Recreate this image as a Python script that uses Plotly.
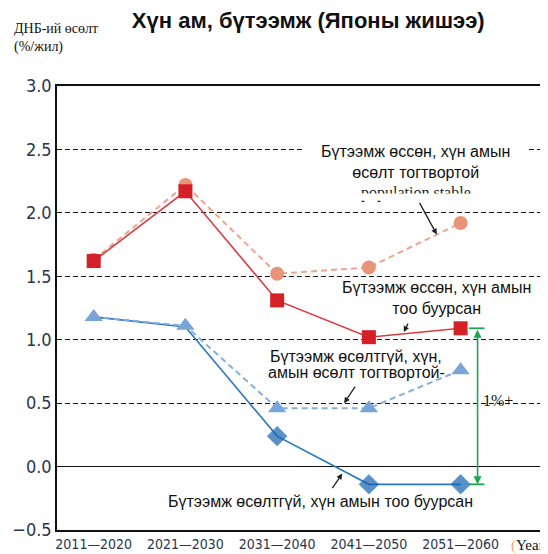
import plotly.graph_objects as go

periods = ["2011—2020", "2021—2030", "2031—2040", "2041—2050", "2051—2060"]
prod_up_pop_stable = [1.63, 2.22, 1.52, 1.57, 1.92]
prod_up_pop_down = [1.62, 2.17, 1.31, 1.02, 1.09]
prod_flat_pop_stable = [1.18, 1.11, 0.46, 0.46, 0.76]
prod_flat_pop_down = [1.18, 1.10, 0.24, -0.14, -0.14]
y_ticks = [-0.5, 0.0, 0.5, 1.0, 1.5, 2.0, 2.5, 3.0]
y_tick_text = ["−0.5", "0.0", "0.5", "1.0", "1.5", "2.0", "2.5", "3.0"]

TICKFONT = "Liberation Sans Narrow, DejaVu Sans Condensed, Arial Narrow, sans-serif"
SANS = "Liberation Sans, Arial, sans-serif"
SERIF = "Liberation Serif, Times New Roman, serif"

fig = go.Figure()

fig.add_trace(go.Scatter(
    x=periods, y=prod_up_pop_stable, mode="lines+markers",
    line=dict(color="#eea48e", width=2, dash="6px,4px"),
    marker=dict(symbol="circle", size=14, color="#e99479"),
    showlegend=False))
fig.add_trace(go.Scatter(
    x=periods, y=prod_up_pop_down, mode="lines+markers",
    line=dict(color="#dc3a40", width=1.6),
    marker=dict(symbol="square", size=14, color="#d42128"),
    showlegend=False))
fig.add_trace(go.Scatter(
    x=periods, y=prod_flat_pop_down, mode="lines+markers",
    line=dict(color="#2a78bf", width=1.6),
    marker=dict(symbol="diamond", size=[0, 0, 15, 15, 15], color="#1462ad"),
    showlegend=False))
fig.add_trace(go.Scatter(
    x=periods, y=prod_flat_pop_stable, mode="lines+markers",
    line=dict(color="#86aedb", width=2, dash="6px,4px"),
    marker=dict(symbol="triangle-up", size=16, color="#78a5d6"),
    showlegend=False))

TXT = dict(family=SANS, size=16, color="#111")
ann = []
# white label box interrupting the 2.5 gridline
ann.append(dict(x=3.50, y=2.425, text=" ", showarrow=False, bgcolor="white",
                width=222, height=36))
ann.append(dict(x=3.51, y=2.40, text="Бүтээмж өссөн, хүн амын<br>өсөлт тогтвортой",
                showarrow=False, font=TXT))
# partially hidden legacy label (lower half covered)
ann.append(dict(x=3.51, y=2.157, text="population stable", showarrow=False,
                font=dict(family=SERIF, size=16, color="#222")))
ann.append(dict(x=3.51, y=2.126, text=" ", showarrow=False, bgcolor="white",
                width=160, height=6, borderpad=0))
ann.append(dict(x=3.74, y=1.33, text="Бүтээмж өссөн, хүн амын<br>тоо буурсан",
                showarrow=False, font=TXT))
ann.append(dict(x=2.86, y=0.865, text="Бүтээмж өсөлтгүй, хүн,",
                showarrow=False, font=TXT))
ann.append(dict(x=2.86, y=0.74, text="амын өсөлт тогтвортой-",
                showarrow=False, font=TXT))
ann.append(dict(x=2.47, y=-0.275, text="Бүтээмж өсөлтгүй, хүн амын тоо буурсан",
                showarrow=False, font=TXT))
# pointer arrows
for hx, hy, ax, ay in [(3.74, 1.83, -18, -33), (3.38, 1.06, 5, -10),
                       (2.73, 0.50, 12, -18), (2.71, -0.055, -11, 16)]:
    ann.append(dict(x=hx, y=hy, ax=ax, ay=ay, text="", showarrow=True,
                    arrowhead=2, arrowsize=0.9, arrowwidth=1.3, arrowcolor="#222"))
# green double arrow
gx = 4.185
ann.append(dict(x=gx, y=prod_flat_pop_down[-1], ax=gx, ay=prod_up_pop_down[-1],
                axref="x", ayref="y", text="", showarrow=True,
                arrowhead=2, startarrowhead=2, arrowside="end+start",
                arrowsize=1, arrowwidth=1.6, arrowcolor="#1ea552"))
ann.append(dict(x=4.22, y=0.52, text="1%+", showarrow=False, xanchor="left",
                font=dict(family=SERIF, size=16, color="#111")))
# axis title & year label
ann.append(dict(xref="paper", yref="paper", x=-0.0918, y=1.108, xanchor="left",
                yanchor="middle", align="left", showarrow=False,
                text="ДНБ-ий өсөлт<br>(%/жил)",
                font=dict(family=SERIF, size=14, color="#111")))
ann.append(dict(xref="paper", yref="paper", x=0.927, y=-0.034, xanchor="left",
                yanchor="middle", showarrow=False,
                text='<span style="color:#f2a868">(</span>Year',
                font=dict(family=SERIF, size=15, color="#111")))

shapes = []
for y in [prod_up_pop_down[-1], prod_flat_pop_down[-1]]:
    shapes.append(dict(type="line", x0=4.09, x1=4.26, y0=y, y1=y,
                       line=dict(color="#1ea552", width=1.8)))

# the page body adds an 8px offset, so the figure is 540x546
fig.update_layout(
    width=540, height=546,
    margin=dict(l=49, r=1, t=78, b=24),
    paper_bgcolor="white", plot_bgcolor="white",
    title=dict(text="<b>Хүн ам, бүтээмж (Японы жишээ)</b>", x=0.556, xanchor="center",
               y=0.977, yanchor="middle", xref="container", yref="container",
               font=dict(family=SANS, size=22, color="#111")),
    annotations=ann, shapes=shapes,
    xaxis=dict(type="category", range=[-0.4, 4.92], showgrid=False,
               showline=True, linecolor="#111", linewidth=1.5, mirror=True,
               ticks="", tickfont=dict(family=TICKFONT, size=14, color="#2c3550")),
    yaxis=dict(range=[-0.5, 3.0], tickvals=y_ticks, ticktext=y_tick_text,
               showgrid=True, gridcolor="#111", gridwidth=1.2, griddash="5px,3px",
               zeroline=True, zerolinecolor="#111", zerolinewidth=1.2,
               showline=True, linecolor="#111", linewidth=1.5, mirror=True,
               ticks="", tickfont=dict(family=TICKFONT, size=18, color="#2c3550")),
)

fig.write_html("out.html")
